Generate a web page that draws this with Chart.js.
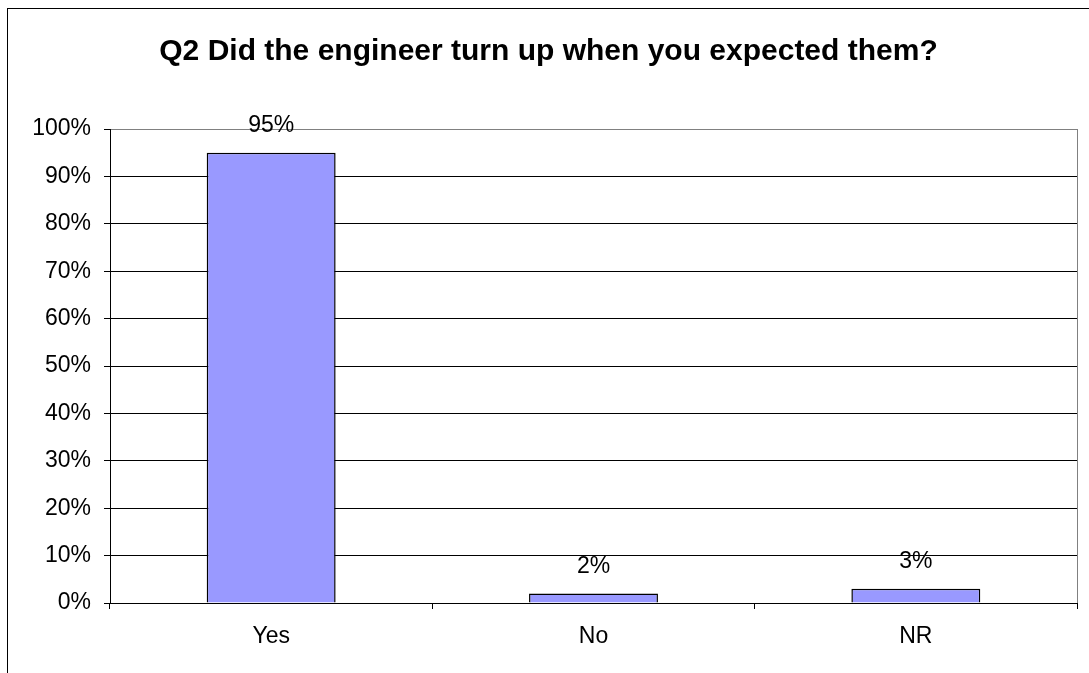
<!DOCTYPE html>
<html>
<head>
<meta charset="utf-8">
<script src="https://cdn.jsdelivr.net/npm/chart.js@4/dist/chart.umd.min.js"></script>
<style>
html,body{margin:0;padding:0;background:#fff;}
#wrap{width:1089px;height:673px;position:relative;}
</style>
</head>
<body>
<div id="wrap"><canvas id="c" width="1089" height="673"></canvas></div>
<script>
const categories = ["Yes", "No", "NR"];
const values = [95, 2, 3];
const yTicks = [0, 10, 20, 30, 40, 50, 60, 70, 80, 90, 100];
const titleText = "Q2 Did the engineer turn up when you expected them?";

const FONT = "'Liberation Sans', Arial, sans-serif";

const frame = {
  id: 'frame',
  beforeDraw(chart) {
    const ctx = chart.ctx;
    ctx.save();
    ctx.fillStyle = '#fff';
    ctx.fillRect(0, 0, chart.width, chart.height);
    ctx.strokeStyle = '#000';
    ctx.lineWidth = 1;
    ctx.strokeRect(7.5, 8.5, chart.width + 20, chart.height + 20);
    // title
    ctx.fillStyle = '#000';
    ctx.font = 'bold 30px ' + FONT;
    ctx.textAlign = 'center';
    ctx.textBaseline = 'alphabetic';
    ctx.fillText(titleText, (7 + chart.width) / 2 + 0.5, 60);
    ctx.restore();
  },
  afterDatasetsDraw(chart) {
    const ctx = chart.ctx;
    const a = chart.chartArea;
    ctx.save();
    ctx.strokeStyle = '#808080';
    ctx.lineWidth = 1;
    ctx.beginPath();
    ctx.moveTo(Math.round(a.right) + 0.5, a.top);
    ctx.lineTo(Math.round(a.right) + 0.5, a.bottom);
    ctx.stroke();
    // data labels
    ctx.fillStyle = '#000';
    ctx.font = '23px ' + FONT;
    ctx.textAlign = 'center';
    ctx.textBaseline = 'middle';
    const meta = chart.getDatasetMeta(0);
    meta.data.forEach((bar, i) => {
      ctx.fillText(values[i] + '%', bar.x, bar.y - 27);
    });
    ctx.restore();
  }
};

new Chart(document.getElementById('c'), {
  type: 'bar',
  data: {
    labels: categories,
    datasets: [{
      data: values,
      backgroundColor: '#9999FF',
      borderColor: '#000',
      borderWidth: 1.5,
      borderSkipped: 'bottom',
      categoryPercentage: 1,
      barPercentage: 0.4
    }]
  },
  options: {
    responsive: false,
    animation: false,
    devicePixelRatio: 1,
    layout: { padding: { left: 0, right: 12, top: 129, bottom: 0 } },
    plugins: {
      legend: { display: false },
      tooltip: { enabled: false },
      title: { display: false }
    },
    scales: {
      x: {
        offset: true,
        grid: {
          offset: true,
          drawOnChartArea: false,
          drawTicks: true,
          tickLength: 6,
          color: '#000'
        },
        border: { display: true, color: '#000', width: 1 },
        ticks: {
          color: '#000',
          font: { family: FONT, size: 23 },
          padding: 14
        },
        afterFit(scale) { scale.height = 70; }
      },
      y: {
        min: 0,
        max: 100,
        afterBuildTicks(scale) { scale.ticks = yTicks.map(v => ({ value: v })); },
        grid: {
          color: ctx => (ctx.tick && ctx.tick.value === 100) ? '#808080' : '#000',
          tickLength: 6,
          tickColor: '#000'
        },
        border: { display: true, color: '#000', width: 1 },
        ticks: {
          color: '#000',
          font: { family: FONT, size: 23 },
          padding: 13,
          callback: v => v + '%'
        },
        afterFit(scale) { scale.width = 110; }
      }
    }
  },
  plugins: [frame]
});
</script>
</body>
</html>
